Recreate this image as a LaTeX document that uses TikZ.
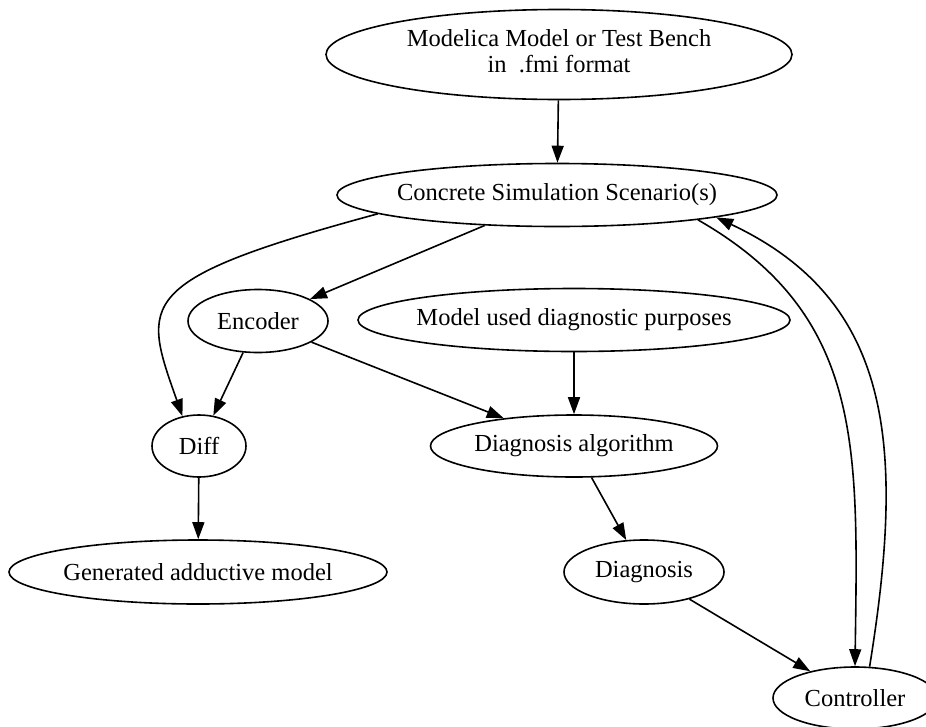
\documentclass[tikz,border=0pt]{standalone}
\usepackage{fontspec}
\setmainfont{Liberation Serif}
\usetikzlibrary{shapes.geometric,arrows.meta}
% zero-width label so the ellipse size is set only by the minimum dimensions
\newcommand{\ctext}[1]{\makebox[0pt][c]{#1}}
\begin{document}
\begin{tikzpicture}[x=1pt,y=-1pt,
  state/.style={ellipse, draw, line width=1.6pt, inner sep=0pt,
                font=\fontsize{24.5}{25.5}\selectfont},
  dims/.style 2 args={minimum width=#1, minimum height=#2},
  flow/.style={line width=1.6pt, -{Triangle[length=17pt,width=12pt]}}
]
\fill[white] (0,0) rectangle (926,726);
\useasboundingbox (0,0) rectangle (926,726);

% nodes
\node[state, dims={466pt}{90pt}] (mod) at (559,54.5)
  {\ctext{\raisebox{-4pt}{\begin{tabular}{@{}c@{}}Modelica Model or Test Bench\\in~~.fmi format\end{tabular}}}};
\node[state, dims={440pt}{63pt}] (css) at (557,195) {\ctext{Concrete Simulation Scenario(s)}};
\node[state, dims={140pt}{63pt}] (enc) at (258,321) {\ctext{Encoder}};
\node[state, dims={432pt}{63pt}] (mud) at (574,320) {\ctext{Model used diagnostic purposes}};
\node[state, dims={94pt}{62pt}] (diff) at (199,446) {\ctext{Diff}};
\node[state, dims={287pt}{62pt}] (dalg) at (574,446) {\ctext{Diagnosis algorithm}};
\node[state, dims={378pt}{64pt}] (gen) at (198,572) {\ctext{Generated adductive model}};
\node[state, dims={160pt}{64pt}] (diag) at (644,572) {\ctext{Diagnosis}};
\node[state, dims={164pt}{62pt}] (ctrl) at (855,698) {\ctext{Controller}};

% connectors
\draw[flow] (mod) -- (css);
\draw[flow] (css) -- (enc);
\draw[flow] (css.186.6) .. controls (133,280) and (142,302) .. (diff.119);
\draw[flow] (enc) -- (diff);
\draw[flow] (enc) -- (dalg);
\draw[flow] (mud) -- (dalg);
\draw[flow] (diff) -- (gen);
\draw[flow] (dalg) -- (diag);
\draw[flow] (diag) -- (ctrl);
\draw[flow] (css.-10.5) .. controls (864,315) and (858,447) .. (ctrl.90);
\draw[flow] (ctrl.65) .. controls (905,448) and (894,301) .. (css.-8);
\end{tikzpicture}
\end{document}
